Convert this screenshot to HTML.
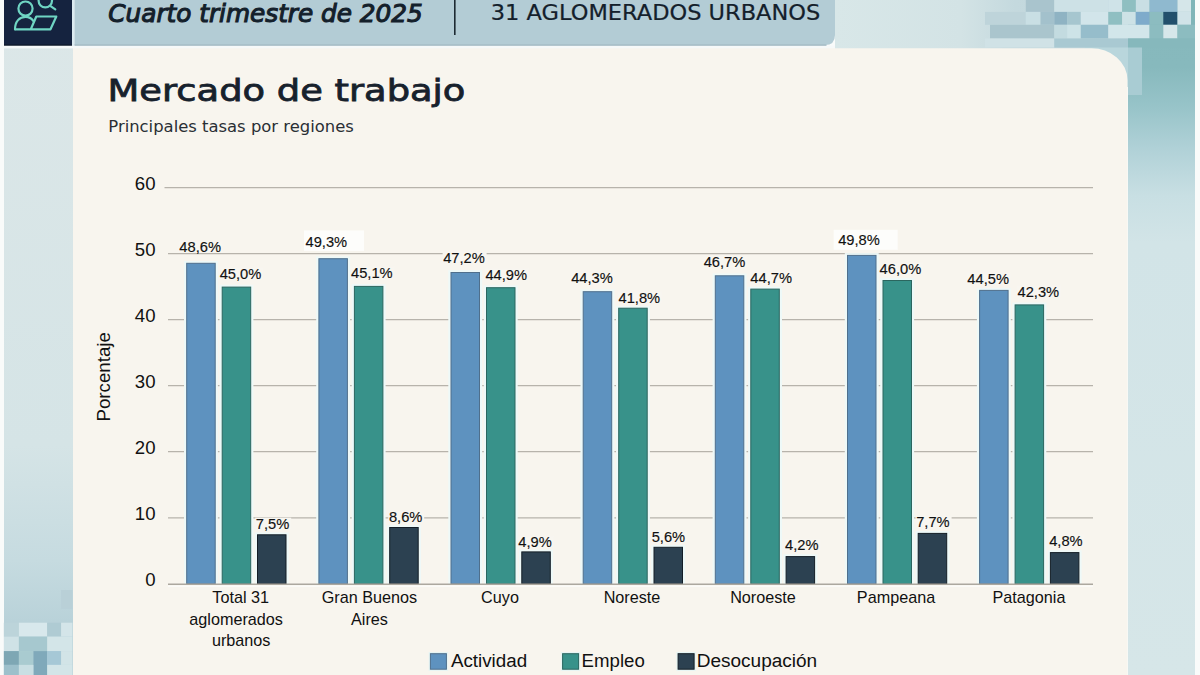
<!DOCTYPE html>
<html lang="es"><head><meta charset="utf-8"><title>Mercado de trabajo</title><style>html,body{margin:0;padding:0;width:1200px;height:675px;overflow:hidden;background:#f9fbfa}svg{display:block}</style></head><body>
<svg width="1200" height="675" viewBox="0 0 1200 675">
<rect x="0" y="0" width="1200" height="675" fill="#f9fbfa"/>
<defs><linearGradient id="rg" x1="0" y1="0" x2="0" y2="1"><stop offset="0" stop-color="#86b8bc"/><stop offset="0.1" stop-color="#87b9bd"/><stop offset="0.16" stop-color="#98c4c9"/><stop offset="0.22" stop-color="#b0d1d7"/><stop offset="0.29" stop-color="#c8dfe3"/><stop offset="0.36" stop-color="#d2e4e7"/><stop offset="1" stop-color="#d6e6e8"/></linearGradient><linearGradient id="tg" x1="0" y1="0" x2="1" y2="0"><stop offset="0" stop-color="#d8e7e8"/><stop offset="0.35" stop-color="#d3e3e5"/><stop offset="0.5" stop-color="#c4d9de"/><stop offset="1" stop-color="#b9d2d8"/></linearGradient><linearGradient id="lg" x1="0" y1="0" x2="0" y2="1"><stop offset="0" stop-color="#dce7e8"/><stop offset="0.66" stop-color="#d5e4e6"/><stop offset="0.83" stop-color="#c6dbe0"/><stop offset="0.92" stop-color="#b9d2d9"/><stop offset="1" stop-color="#b9d2d9"/></linearGradient></defs>
<rect x="4" y="0" width="69" height="675" fill="url(#lg)"/>
<rect x="835" y="0" width="360" height="60" fill="url(#tg)"/>
<rect x="1128" y="0" width="67" height="675" fill="url(#rg)"/>
<rect x="1085" y="47" width="43" height="40" fill="#b9d6dc"/>
<rect x="1128" y="47" width="14" height="48" fill="#a9ccd3"/>
<rect x="1025.8" y="0" width="28.5" height="11.9" fill="#a9c4cd"/>
<rect x="1054.3" y="0" width="54.0" height="11.9" fill="#cde1e6"/>
<rect x="1108.3" y="0" width="13.8" height="11.9" fill="#cfe3e8"/>
<rect x="1122.1" y="0" width="13.7" height="11.9" fill="#8fbfc1"/>
<rect x="1135.8" y="0" width="13.8" height="11.9" fill="#c9dfe4"/>
<rect x="1149.6" y="0" width="27.9" height="11.9" fill="#8fb9cf"/>
<rect x="1177.5" y="0" width="13.5" height="11.9" fill="#d5e6e9"/>
<rect x="1191" y="0" width="4.0" height="11.9" fill="#80b5b8"/>
<rect x="985" y="11.9" width="40.8" height="12.9" fill="#bed4da"/>
<rect x="1025.8" y="11.9" width="14.7" height="12.9" fill="#c9dfe4"/>
<rect x="1040.5" y="11.9" width="13.8" height="12.9" fill="#a3c1cc"/>
<rect x="1054.3" y="11.9" width="12.8" height="12.9" fill="#8fb3c3"/>
<rect x="1067.1" y="11.9" width="13.7" height="12.9" fill="#a6c6cf"/>
<rect x="1080.8" y="11.9" width="27.5" height="12.9" fill="#d2e5ea"/>
<rect x="1108.3" y="11.9" width="13.8" height="12.9" fill="#8fbfc2"/>
<rect x="1122.1" y="11.9" width="13.7" height="12.9" fill="#cde2e6"/>
<rect x="1135.8" y="11.9" width="13.8" height="12.9" fill="#7eabcb"/>
<rect x="1149.6" y="11.9" width="13.7" height="12.9" fill="#8cbcc0"/>
<rect x="1163.3" y="11.9" width="14.2" height="12.9" fill="#22506c"/>
<rect x="1177.5" y="11.9" width="13.5" height="12.9" fill="#d0e3e8"/>
<rect x="1191" y="11.9" width="4.0" height="12.9" fill="#80b5b8"/>
<rect x="990" y="24.8" width="64.3" height="13.7" fill="#aac5cd"/>
<rect x="1054.3" y="24.8" width="12.8" height="13.7" fill="#c3dbe0"/>
<rect x="1067.1" y="24.8" width="13.7" height="13.7" fill="#cde3e7"/>
<rect x="1080.8" y="24.8" width="27.5" height="13.7" fill="#96bdcb"/>
<rect x="1108.3" y="24.8" width="41.3" height="13.7" fill="#d2e6ea"/>
<rect x="1149.6" y="24.8" width="13.7" height="13.7" fill="#8cbcc0"/>
<rect x="1163.3" y="24.8" width="14.2" height="13.7" fill="#d6e7ea"/>
<rect x="1177.5" y="24.8" width="17.5" height="13.7" fill="#8cbcc0"/>
<rect x="985" y="38.5" width="69.3" height="9.0" fill="#d0e2e6"/>
<rect x="1054.3" y="38.5" width="73.7" height="9.0" fill="#a9c9d2"/>
<rect x="1128" y="38.5" width="67.0" height="9.0" fill="#86b8bc"/>
<rect x="61.1" y="590" width="11.3" height="18.9" fill="#b9d0d7"/>
<rect x="3.8" y="622.7" width="15.1" height="13.9" fill="#bcd4da"/>
<rect x="18.9" y="622.7" width="28.3" height="13.9" fill="#d8e8ec"/>
<rect x="47.2" y="622.7" width="13.9" height="13.9" fill="#afcbd3"/>
<rect x="61.1" y="622.7" width="11.3" height="13.9" fill="#d4e5e9"/>
<rect x="3.8" y="636.6" width="15.1" height="14.5" fill="#cfe2e6"/>
<rect x="18.9" y="636.6" width="28.3" height="14.5" fill="#a6c8cf"/>
<rect x="47.2" y="636.6" width="25.2" height="14.5" fill="#d3e5e8"/>
<rect x="3.8" y="651.1" width="15.1" height="13.8" fill="#7ea7b4"/>
<rect x="18.9" y="651.1" width="14.5" height="13.8" fill="#a9cbd0"/>
<rect x="33.4" y="651.1" width="13.8" height="24" fill="#80a9ba"/>
<rect x="47.2" y="651.1" width="13.9" height="13.8" fill="#a6c8d6"/>
<rect x="61.1" y="651.1" width="11.3" height="13.8" fill="#d2e4e7"/>
<rect x="3.8" y="664.9" width="15.1" height="10.1" fill="#9dc0cb"/>
<rect x="18.9" y="664.9" width="14.5" height="10.1" fill="#c9dfe3"/>
<rect x="47.2" y="664.9" width="25.2" height="10.1" fill="#d3e5e8"/>
<rect x="4" y="0" width="68" height="45.7" fill="#15233f"/>
<rect x="4" y="44.6" width="68" height="1.1" fill="#0b1322"/>
<rect x="72" y="0" width="2.5" height="46" fill="#dbeaf0"/>
<path d="M74.5 0 H835 V35 Q835 45 825 45 H74.5 Z" fill="#b3ccd5"/>
<rect x="74.5" y="44.4" width="752" height="1.6" fill="#a3bac4"/>
<rect x="4" y="45.8" width="831" height="2.6" fill="#f6f9f9"/>
<path d="M73 48.2 H1091 A36 32 0 0 1 1127.5 80.2 V675 H73 Z" fill="#f8f5ee"/>
<g fill="none" stroke="#6fd5c3" stroke-width="2.2" stroke-linejoin="round" stroke-linecap="round"><circle cx="25.5" cy="8.6" r="7.1"/><path d="M15 29.3 C15 21.5 19.5 16.8 25.5 16.8 C29 16.8 31.6 18.3 33.3 20.8"/><path d="M15 29.3 H50.5 L56.3 16.5 H36.3 L30.8 29.3"/><circle cx="45.3" cy="0.7" r="6.7"/><path d="M50.2 5.8 L55.3 9.4"/></g>
<rect x="454" y="0" width="1.6" height="35" fill="#1d2a33"/>
<text x="108.3" y="22.1" font-family="DejaVu Sans, sans-serif" font-size="25" font-style="italic" fill="#14202b" stroke="#14202b" stroke-width="1.1" textLength="314.5" lengthAdjust="spacingAndGlyphs">Cuarto trimestre de 2025</text>
<text x="490.8" y="20" font-family="DejaVu Sans, sans-serif" font-size="20.6" fill="#14202b" stroke="#14202b" stroke-width="0.2" textLength="329.5" lengthAdjust="spacingAndGlyphs">31 AGLOMERADOS URBANOS</text>
<text x="107.6" y="101" font-family="DejaVu Sans, sans-serif" font-size="30.5" fill="#17212c" stroke="#17212c" stroke-width="0.8" textLength="357.8" lengthAdjust="spacingAndGlyphs">Mercado de trabajo</text>
<text x="108.3" y="131.5" font-family="DejaVu Sans, sans-serif" font-size="15.5" fill="#2a2f35" textLength="245.5" lengthAdjust="spacingAndGlyphs">Principales tasas por regiones</text>
<line x1="168" y1="517.8" x2="1093" y2="517.8" stroke="#b7b3ab" stroke-width="1.25"/>
<line x1="168" y1="451.7" x2="1093" y2="451.7" stroke="#b7b3ab" stroke-width="1.25"/>
<line x1="168" y1="385.6" x2="1093" y2="385.6" stroke="#b7b3ab" stroke-width="1.25"/>
<line x1="168" y1="319.6" x2="1093" y2="319.6" stroke="#b7b3ab" stroke-width="1.25"/>
<line x1="168" y1="253.5" x2="1093" y2="253.5" stroke="#b7b3ab" stroke-width="1.25"/>
<line x1="164.5" y1="187.5" x2="1093" y2="187.5" stroke="#b7b3ab" stroke-width="1.25"/>
<text x="155.5" y="586.2" text-anchor="end" font-family="Liberation Sans, sans-serif" font-size="18.6" fill="#111">0</text>
<text x="155.5" y="520.1" text-anchor="end" font-family="Liberation Sans, sans-serif" font-size="18.6" fill="#111">10</text>
<text x="155.5" y="454.1" text-anchor="end" font-family="Liberation Sans, sans-serif" font-size="18.6" fill="#111">20</text>
<text x="155.5" y="388.0" text-anchor="end" font-family="Liberation Sans, sans-serif" font-size="18.6" fill="#111">30</text>
<text x="155.5" y="322.0" text-anchor="end" font-family="Liberation Sans, sans-serif" font-size="18.6" fill="#111">40</text>
<text x="155.5" y="255.9" text-anchor="end" font-family="Liberation Sans, sans-serif" font-size="18.6" fill="#111">50</text>
<text x="155.5" y="189.9" text-anchor="end" font-family="Liberation Sans, sans-serif" font-size="18.6" fill="#111">60</text>
<rect x="184.0" y="261.0" width="33.9" height="322.8" fill="#eef9f8"/>
<rect x="186.7" y="263.3" width="28.5" height="320.5" fill="#5e92bf" stroke="#4f6f8c" stroke-width="1"/>
<rect x="219.5" y="284.8" width="33.9" height="299.0" fill="#eef9f8"/>
<rect x="222.2" y="287.1" width="28.5" height="296.7" fill="#38928a" stroke="#2b665f" stroke-width="1"/>
<rect x="254.8" y="532.5" width="33.9" height="51.3" fill="#eef9f8"/>
<rect x="257.5" y="534.8" width="28.5" height="49.0" fill="#2c4151" stroke="#141e27" stroke-width="1"/>
<rect x="316.2" y="256.4" width="33.9" height="327.4" fill="#eef9f8"/>
<rect x="318.9" y="258.7" width="28.5" height="325.1" fill="#5e92bf" stroke="#4f6f8c" stroke-width="1"/>
<rect x="351.7" y="284.1" width="33.9" height="299.7" fill="#eef9f8"/>
<rect x="354.4" y="286.4" width="28.5" height="297.4" fill="#38928a" stroke="#2b665f" stroke-width="1"/>
<rect x="387.0" y="525.2" width="33.9" height="58.6" fill="#eef9f8"/>
<rect x="389.7" y="527.5" width="28.5" height="56.3" fill="#2c4151" stroke="#141e27" stroke-width="1"/>
<rect x="448.3" y="270.2" width="33.9" height="313.6" fill="#eef9f8"/>
<rect x="451.0" y="272.5" width="28.5" height="311.3" fill="#5e92bf" stroke="#4f6f8c" stroke-width="1"/>
<rect x="483.8" y="285.4" width="33.9" height="298.4" fill="#eef9f8"/>
<rect x="486.5" y="287.7" width="28.5" height="296.1" fill="#38928a" stroke="#2b665f" stroke-width="1"/>
<rect x="519.1" y="549.6" width="33.9" height="34.2" fill="#eef9f8"/>
<rect x="521.8" y="551.9" width="28.5" height="31.9" fill="#2c4151" stroke="#141e27" stroke-width="1"/>
<rect x="580.5" y="289.4" width="33.9" height="294.4" fill="#eef9f8"/>
<rect x="583.2" y="291.7" width="28.5" height="292.1" fill="#5e92bf" stroke="#4f6f8c" stroke-width="1"/>
<rect x="616.0" y="305.9" width="33.9" height="277.9" fill="#eef9f8"/>
<rect x="618.7" y="308.2" width="28.5" height="275.6" fill="#38928a" stroke="#2b665f" stroke-width="1"/>
<rect x="651.2" y="545.0" width="33.9" height="38.8" fill="#eef9f8"/>
<rect x="654.0" y="547.3" width="28.5" height="36.5" fill="#2c4151" stroke="#141e27" stroke-width="1"/>
<rect x="712.6" y="273.5" width="33.9" height="310.3" fill="#eef9f8"/>
<rect x="715.3" y="275.8" width="28.5" height="308.0" fill="#5e92bf" stroke="#4f6f8c" stroke-width="1"/>
<rect x="748.1" y="286.8" width="33.9" height="297.0" fill="#eef9f8"/>
<rect x="750.8" y="289.1" width="28.5" height="294.7" fill="#38928a" stroke="#2b665f" stroke-width="1"/>
<rect x="783.4" y="554.3" width="33.9" height="29.5" fill="#eef9f8"/>
<rect x="786.1" y="556.6" width="28.5" height="27.2" fill="#2c4151" stroke="#141e27" stroke-width="1"/>
<rect x="844.8" y="253.1" width="33.9" height="330.7" fill="#eef9f8"/>
<rect x="847.5" y="255.4" width="28.5" height="328.4" fill="#5e92bf" stroke="#4f6f8c" stroke-width="1"/>
<rect x="880.2" y="278.2" width="33.9" height="305.6" fill="#eef9f8"/>
<rect x="883.0" y="280.5" width="28.5" height="303.3" fill="#38928a" stroke="#2b665f" stroke-width="1"/>
<rect x="915.5" y="531.1" width="33.9" height="52.7" fill="#eef9f8"/>
<rect x="918.2" y="533.4" width="28.5" height="50.4" fill="#2c4151" stroke="#141e27" stroke-width="1"/>
<rect x="976.9" y="288.1" width="33.9" height="295.7" fill="#eef9f8"/>
<rect x="979.6" y="290.4" width="28.5" height="293.4" fill="#5e92bf" stroke="#4f6f8c" stroke-width="1"/>
<rect x="1012.4" y="302.6" width="33.9" height="281.2" fill="#eef9f8"/>
<rect x="1015.1" y="304.9" width="28.5" height="278.9" fill="#38928a" stroke="#2b665f" stroke-width="1"/>
<rect x="1047.7" y="550.3" width="33.9" height="33.5" fill="#eef9f8"/>
<rect x="1050.4" y="552.6" width="28.5" height="31.2" fill="#2c4151" stroke="#141e27" stroke-width="1"/>
<line x1="168" y1="584.3" x2="1093" y2="584.3" stroke="#aca89f" stroke-width="1.6"/>
<line x1="168" y1="586.2" x2="1093" y2="586.2" stroke="#fbfbf8" stroke-width="1.6"/>
<rect x="304" y="230.4" width="60" height="20.5" fill="#fdfdfb"/>
<rect x="833.7" y="229.8" width="64" height="20" fill="#fdfdfb"/>
<rect x="178.7" y="241.1" width="44" height="11.5" fill="#f8f6f0"/>
<text x="179.3" y="252.3" font-family="Liberation Sans, sans-serif" font-size="14.7" fill="#111" stroke="#111" stroke-width="0.15">48,6%</text>
<rect x="219.1" y="267.5" width="44" height="11.5" fill="#f8f6f0"/>
<text x="219.7" y="278.7" font-family="Liberation Sans, sans-serif" font-size="14.7" fill="#111" stroke="#111" stroke-width="0.15">45,0%</text>
<rect x="255.2" y="517.7" width="36" height="11.5" fill="#f8f6f0"/>
<text x="255.8" y="528.9" font-family="Liberation Sans, sans-serif" font-size="14.7" fill="#111" stroke="#111" stroke-width="0.15">7,5%</text>
<text x="305.5" y="247.2" font-family="Liberation Sans, sans-serif" font-size="14.7" fill="#111" stroke="#111" stroke-width="0.15">49,3%</text>
<rect x="350.4" y="266.3" width="44" height="11.5" fill="#f8f6f0"/>
<text x="351.0" y="277.5" font-family="Liberation Sans, sans-serif" font-size="14.7" fill="#111" stroke="#111" stroke-width="0.15">45,1%</text>
<rect x="388.2" y="511.2" width="36" height="11.5" fill="#f8f6f0"/>
<text x="388.9" y="522.4" font-family="Liberation Sans, sans-serif" font-size="14.7" fill="#111" stroke="#111" stroke-width="0.15">8,6%</text>
<rect x="442.6" y="251.3" width="44" height="11.5" fill="#f8f6f0"/>
<text x="443.2" y="262.5" font-family="Liberation Sans, sans-serif" font-size="14.7" fill="#111" stroke="#111" stroke-width="0.15">47,2%</text>
<rect x="484.8" y="268.3" width="44" height="11.5" fill="#f8f6f0"/>
<text x="485.4" y="279.5" font-family="Liberation Sans, sans-serif" font-size="14.7" fill="#111" stroke="#111" stroke-width="0.15">44,9%</text>
<rect x="517.7" y="536.2" width="36" height="11.5" fill="#f8f6f0"/>
<text x="518.3" y="547.4" font-family="Liberation Sans, sans-serif" font-size="14.7" fill="#111" stroke="#111" stroke-width="0.15">4,9%</text>
<rect x="570.6" y="272.1" width="44" height="11.5" fill="#f8f6f0"/>
<text x="571.2" y="283.3" font-family="Liberation Sans, sans-serif" font-size="14.7" fill="#111" stroke="#111" stroke-width="0.15">44,3%</text>
<rect x="617.9" y="291.6" width="44" height="11.5" fill="#f8f6f0"/>
<text x="618.5" y="302.8" font-family="Liberation Sans, sans-serif" font-size="14.7" fill="#111" stroke="#111" stroke-width="0.15">41,8%</text>
<rect x="651.1" y="530.4" width="36" height="11.5" fill="#f8f6f0"/>
<text x="651.7" y="541.6" font-family="Liberation Sans, sans-serif" font-size="14.7" fill="#111" stroke="#111" stroke-width="0.15">5,6%</text>
<rect x="703.1" y="256.0" width="44" height="11.5" fill="#f8f6f0"/>
<text x="703.7" y="267.2" font-family="Liberation Sans, sans-serif" font-size="14.7" fill="#111" stroke="#111" stroke-width="0.15">46,7%</text>
<rect x="749.7" y="271.7" width="44" height="11.5" fill="#f8f6f0"/>
<text x="750.3" y="282.9" font-family="Liberation Sans, sans-serif" font-size="14.7" fill="#111" stroke="#111" stroke-width="0.15">44,7%</text>
<rect x="784.4" y="539.0" width="36" height="11.5" fill="#f8f6f0"/>
<text x="785.0" y="550.2" font-family="Liberation Sans, sans-serif" font-size="14.7" fill="#111" stroke="#111" stroke-width="0.15">4,2%</text>
<text x="838.2" y="244.7" font-family="Liberation Sans, sans-serif" font-size="14.7" fill="#111" stroke="#111" stroke-width="0.15">49,8%</text>
<rect x="879.0" y="262.4" width="44" height="11.5" fill="#f8f6f0"/>
<text x="879.6" y="273.6" font-family="Liberation Sans, sans-serif" font-size="14.7" fill="#111" stroke="#111" stroke-width="0.15">46,0%</text>
<rect x="915.6" y="515.8" width="36" height="11.5" fill="#f8f6f0"/>
<text x="916.2" y="527.0" font-family="Liberation Sans, sans-serif" font-size="14.7" fill="#111" stroke="#111" stroke-width="0.15">7,7%</text>
<rect x="966.7" y="272.6" width="44" height="11.5" fill="#f8f6f0"/>
<text x="967.3" y="283.8" font-family="Liberation Sans, sans-serif" font-size="14.7" fill="#111" stroke="#111" stroke-width="0.15">44,5%</text>
<rect x="1016.9" y="285.6" width="44" height="11.5" fill="#f8f6f0"/>
<text x="1017.5" y="296.8" font-family="Liberation Sans, sans-serif" font-size="14.7" fill="#111" stroke="#111" stroke-width="0.15">42,3%</text>
<rect x="1048.6" y="534.3" width="36" height="11.5" fill="#f8f6f0"/>
<text x="1049.2" y="545.5" font-family="Liberation Sans, sans-serif" font-size="14.7" fill="#111" stroke="#111" stroke-width="0.15">4,8%</text>
<text x="240.7" y="602.8" text-anchor="middle" font-family="Liberation Sans, sans-serif" font-size="16.2" fill="#111">Total 31</text>
<text x="236.1" y="625.3" text-anchor="middle" font-family="Liberation Sans, sans-serif" font-size="16.2" fill="#111">aglomerados</text>
<text x="241.2" y="646.2" text-anchor="middle" font-family="Liberation Sans, sans-serif" font-size="16.2" fill="#111">urbanos</text>
<text x="369.4" y="602.8" text-anchor="middle" font-family="Liberation Sans, sans-serif" font-size="16.2" fill="#111">Gran Buenos</text>
<text x="369.5" y="625.3" text-anchor="middle" font-family="Liberation Sans, sans-serif" font-size="16.2" fill="#111">Aires</text>
<text x="500" y="602.8" text-anchor="middle" font-family="Liberation Sans, sans-serif" font-size="16.2" fill="#111">Cuyo</text>
<text x="632" y="602.8" text-anchor="middle" font-family="Liberation Sans, sans-serif" font-size="16.2" fill="#111">Noreste</text>
<text x="763" y="602.8" text-anchor="middle" font-family="Liberation Sans, sans-serif" font-size="16.2" fill="#111">Noroeste</text>
<text x="896" y="602.8" text-anchor="middle" font-family="Liberation Sans, sans-serif" font-size="16.2" fill="#111">Pampeana</text>
<text x="1029" y="602.8" text-anchor="middle" font-family="Liberation Sans, sans-serif" font-size="16.2" fill="#111">Patagonia</text>
<text transform="translate(110,421.6) rotate(-90)" x="0" y="0" font-family="Liberation Sans, sans-serif" font-size="18.5" fill="#111" textLength="89.5" lengthAdjust="spacingAndGlyphs">Porcentaje</text>
<rect x="428.7" y="652" width="19.4" height="18.9" fill="#e6f5f4"/>
<rect x="430.4" y="653.7" width="16" height="15.5" fill="#5e92bf" stroke="#4f6f8c" stroke-width="1"/>
<text x="450.9" y="666.9" font-family="Liberation Sans, sans-serif" font-size="18" fill="#111" textLength="76.2" lengthAdjust="spacingAndGlyphs">Actividad</text>
<rect x="560.9" y="652" width="19.4" height="18.9" fill="#e6f5f4"/>
<rect x="562.6" y="653.7" width="16" height="15.5" fill="#38928a" stroke="#2b665f" stroke-width="1"/>
<text x="581.6" y="666.9" font-family="Liberation Sans, sans-serif" font-size="18" fill="#111" textLength="63.2" lengthAdjust="spacingAndGlyphs">Empleo</text>
<rect x="676.4" y="652" width="19.4" height="18.9" fill="#e6f5f4"/>
<rect x="678.1" y="653.7" width="16" height="15.5" fill="#2c4151" stroke="#141e27" stroke-width="1"/>
<text x="696.7" y="666.9" font-family="Liberation Sans, sans-serif" font-size="18" fill="#111" textLength="120.5" lengthAdjust="spacingAndGlyphs">Desocupación</text>
</svg>
</body></html>
